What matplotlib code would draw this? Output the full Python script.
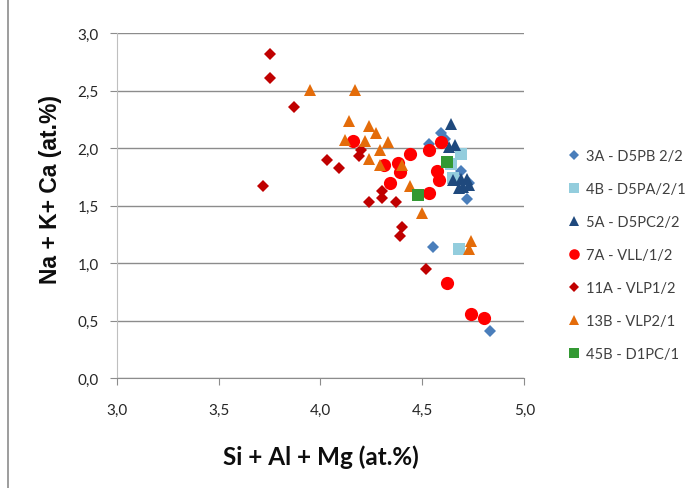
import matplotlib
matplotlib.use("Agg")
import matplotlib.pyplot as plt
from matplotlib.ticker import FuncFormatter, MultipleLocator
from matplotlib.lines import Line2D

# series
x_3a = [4.53, 4.59, 4.61, 4.69, 4.73, 4.72, 4.55, 4.83]
y_3a = [2.04, 2.13, 2.08, 1.80, 1.70, 1.56, 1.14, 0.41]

x_4b = [4.69, 4.64, 4.65, 4.68]
y_4b = [1.95, 1.86, 1.74, 1.12]

x_5a = [4.64, 4.66, 4.63, 4.65, 4.69, 4.72, 4.68, 4.73, 4.70]
y_5a = [2.21, 2.03, 2.01, 1.72, 1.73, 1.73, 1.65, 1.68, 1.66]

x_7a = [4.16, 4.31, 4.38, 4.39, 4.34, 4.44, 4.53, 4.59, 4.57, 4.58, 4.53, 4.62, 4.74, 4.80]
y_7a = [2.06, 1.85, 1.87, 1.79, 1.70, 1.95, 1.98, 2.05, 1.80, 1.72, 1.61, 0.83, 0.56, 0.52]

x_11a = [3.75, 3.75, 3.87, 3.72, 4.03, 4.09, 4.20, 4.19, 4.30, 4.30, 4.24, 4.37, 4.40, 4.39, 4.52]
y_11a = [2.82, 2.61, 2.36, 1.67, 1.90, 1.83, 1.98, 1.93, 1.63, 1.57, 1.53, 1.53, 1.31, 1.24, 0.95]

x_13b = [3.95, 4.17, 4.14, 4.12, 4.22, 4.24, 4.27, 4.33, 4.29, 4.24, 4.29, 4.40, 4.44, 4.50, 4.74, 4.73]
y_13b = [2.51, 2.51, 2.24, 2.07, 2.06, 2.19, 2.13, 2.05, 1.98, 1.91, 1.85, 1.85, 1.67, 1.44, 1.19, 1.12]

x_45b = [4.48, 4.62]
y_45b = [1.59, 1.88]

series = [
    ("3A - D5PB 2/2", x_3a, y_3a, "D", "#4A7EBB", 6.3),
    ("4B - D5PA/2/1", x_4b, y_4b, "s", "#93CDDD", 9),
    ("5A - D5PC2/2", x_5a, y_5a, "^", "#1F497D", 9),
    ("7A - VLL/1/2", x_7a, y_7a, "o", "#FF0000", 9.5),
    ("11A - VLP1/2", x_11a, y_11a, "D", "#C00000", 6.3),
    ("13B - VLP2/1", x_13b, y_13b, "^", "#E46C0A", 9),
    ("45B - D1PC/1", x_45b, y_45b, "s", "#339933", 9),
]

fig = plt.figure(figsize=(6.92, 4.89), dpi=100)
ax = fig.add_axes([116.7/692, 1-379/489, (524.3-116.7)/692, (379-34.3)/489])

handles = []
for name, xs, ys, mk, col, ms in series:
    ax.plot(xs, ys, linestyle="none", marker=mk, color=col, markersize=ms,
            markeredgewidth=0)
    handles.append(Line2D([], [], linestyle="none", marker=mk, color=col,
                          markersize=ms*0.8, markeredgewidth=0, label=name))

ax.set_xlim(3.0, 5.0)
ax.set_ylim(0.0, 3.0)
ax.xaxis.set_major_locator(MultipleLocator(0.5))
ax.yaxis.set_major_locator(MultipleLocator(0.5))
comma = FuncFormatter(lambda v, p: ("%.1f" % v).replace(".", ","))
ax.xaxis.set_major_formatter(comma)
ax.yaxis.set_major_formatter(comma)

ax.grid(axis="y", color="#8C8C8C", linewidth=1.0)
ax.set_axisbelow(True)
for s in ["top", "right"]:
    ax.spines[s].set_visible(False)
ax.spines["left"].set_color("#BFBFBF")
ax.spines["bottom"].set_color("#8C8C8C")
ax.tick_params(axis="x", length=5, color="#8C8C8C", pad=13, labelsize=11,
               labelcolor="#262626")
ax.tick_params(axis="y", length=5, color="#8C8C8C", pad=8, labelsize=11,
               labelcolor="#262626")
for t in ax.get_xticklabels() + ax.get_yticklabels():
    t.set_family("Lato")

fig.text(50/692, 1-189/489, "Na + K+ Ca (at.%)", rotation=90, ha="center",
         va="center", fontsize=16.5, fontweight="bold", family="Liberation Sans",
         color="#0D0D0D")
fig.text(321/692, 1-457/489, "Si + Al + Mg (at.%)", ha="center", va="center",
         fontsize=17.5, fontweight="bold", family="Lato", color="#0D0D0D")

fig.legend(handles=handles, loc="upper left", bbox_to_anchor=(561/692, 1-143/489),
           frameon=False, borderpad=0, handlelength=0.8, handletextpad=0.4,
           labelspacing=1.3, prop={"family": "Lato", "size": 10.5},
           labelcolor="#404040", numpoints=1)

fig.add_artist(Line2D([8/692, 8/692], [0, 1], color="#8C8C8C", linewidth=1.2))

fig.savefig("out.png", dpi=100)
